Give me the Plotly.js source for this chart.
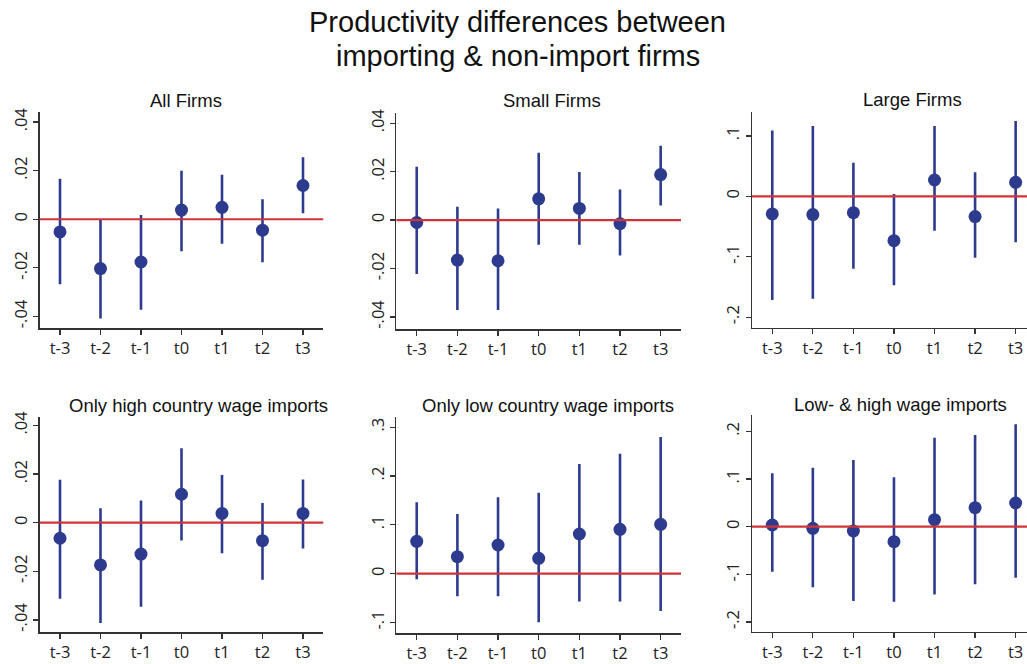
<!DOCTYPE html>
<html>
<head>
<meta charset="utf-8">
<script src="https://cdn.plot.ly/plotly-3.0.1.min.js"></script>
<style>html,body{margin:0;padding:0;background:#fff;}#chart{width:1027px;height:664px;}</style>
</head>
<body>
<div id="chart"></div>
<script>
// ---- data ----
const categories = ["t-3","t-2","t-1","t0","t1","t2","t3"];
const titleLines = ["Productivity differences between", "importing & non-import firms"];
const panelTitles = ["All Firms","Small Firms","Large Firms","Only high country wage imports","Only low country wage imports","Low- & high wage imports"];

const allEst   = [-0.0052,-0.0203,-0.0176, 0.0038, 0.0049,-0.0045, 0.0139];
const allHi    = [ 0.0167,-0.0003, 0.0018, 0.0200, 0.0183, 0.0082, 0.0255];
const allLo    = [-0.0268,-0.0409,-0.0373,-0.0132,-0.0101,-0.0177, 0.0025];

const smallEst = [-0.0010,-0.0165,-0.0168, 0.0088, 0.0048,-0.0015, 0.0188];
const smallHi  = [ 0.0220, 0.0055, 0.0048, 0.0278, 0.0199, 0.0126, 0.0307];
const smallLo  = [-0.0223,-0.0371,-0.0371,-0.0102,-0.0102,-0.0146, 0.0060];

const largeEst = [-0.0292,-0.0303,-0.0270,-0.0734, 0.0270,-0.0336, 0.0232];
const largeHi  = [ 0.1087, 0.1164, 0.0557, 0.0039, 0.1164, 0.0397, 0.1247];
const largeLo  = [-0.1715,-0.1693,-0.1197,-0.1472,-0.0568,-0.1015,-0.0761];

const highEst  = [-0.0064,-0.0174,-0.0129, 0.0117, 0.0038,-0.0074, 0.0038];
const highHi   = [ 0.0177, 0.0059, 0.0091, 0.0306, 0.0196, 0.0081, 0.0178];
const highLo   = [-0.0313,-0.0413,-0.0346,-0.0073,-0.0126,-0.0235,-0.0106];

const lowEst   = [ 0.0662, 0.0348, 0.0587, 0.0314, 0.0812, 0.0908, 0.1010];
const lowHi    = [ 0.1461, 0.1222, 0.1563, 0.1659, 0.2246, 0.2457, 0.2799];
const lowLo    = [-0.0116,-0.0464,-0.0464,-0.0997,-0.0573,-0.0573,-0.0765];

const bothEst  = [ 0.0035,-0.0035,-0.0091,-0.0315, 0.0147, 0.0399, 0.0497];
const bothHi   = [ 0.1119, 0.1238, 0.1399, 0.1035, 0.1867, 0.1923, 0.2147];
const bothLo   = [-0.0944,-0.1273,-0.1559,-0.1573,-0.1420,-0.1210,-0.1070];

const tickVals04 = [-0.04,-0.02,0,0.02,0.04];
const tickText04 = ["-.04","-.02","0",".02",".04"];
const tickValsL  = [-0.2,-0.1,0,0.1];
const tickTextL  = ["-.2","-.1","0",".1"];
const tickValsLow = [-0.1,0,0.1,0.2,0.3];
const tickTextLow = ["-.1","0",".1",".2",".3"];
const tickValsBoth = [-0.2,-0.1,0,0.1,0.2];
const tickTextBoth = ["-.2","-.1","0",".1",".2"];

// ---- layout config ----
const W = 1027, H = 664;
const BLUE = "#2c3b8d", RED = "#d0333a", AXC = "#333333";
const panels = [
  {est: allEst,   hi: allHi,   lo: allLo,   tv: tickVals04,  tt: tickText04,  xd:[39.75,323.25], yd:[111.7,328.3], xr:[-0.5,6.5],  yr:[-0.0449,0.0443], tx:185.7, ty:100.7},
  {est: smallEst, hi: smallHi, lo: smallLo, tv: tickVals04,  tt: tickText04,  xd:[396.4,681],    yd:[113.3,329.3], xr:[-0.5,6.5],  yr:[-0.0451,0.0441], tx:552,   ty:100.7},
  {est: largeEst, hi: largeHi, lo: largeLo, tv: tickValsL,   tt: tickTextL,   xd:[752,1027],     yd:[111.7,327.7], xr:[-0.5,6.28], yr:[-0.2174,0.140],  tx:912.8, ty:99.5},
  {est: highEst,  hi: highHi,  lo: highLo,  tv: tickVals04,  tt: tickText04,  xd:[39.75,323.25], yd:[416.7,632.3], xr:[-0.5,6.5],  yr:[-0.0451,0.0436], tx:198.3, ty:405},
  {est: lowEst,   hi: lowHi,   lo: lowLo,   tv: tickValsLow, tt: tickTextLow, xd:[396.4,681],    yd:[417.3,633.3], xr:[-0.5,6.5],  yr:[-0.1222,0.3202], tx:547.7, ty:405},
  {est: bothEst,  hi: bothHi,  lo: bothLo,  tv: tickValsBoth,tt: tickTextBoth,xd:[752,1027],     yd:[415,631.7],   xr:[-0.5,6.28], yr:[-0.2203,0.2343], tx:900,   ty:404}
];

const tickFont = {family: "Open Sans, Noto Sans, sans-serif", size: 16.5, color: "#222"};
const titleFont = {family: "Liberation Sans, Arial, sans-serif", size: 18.5, color: "#111"};

const data = [];
const layout = {
  width: W, height: H,
  margin: {l:0, r:0, t:0, b:0},
  paper_bgcolor: "#fff", plot_bgcolor: "#fff",
  showlegend: false,
  shapes: [], annotations: []
};

panels.forEach((p, i) => {
  const n = i + 1;
  const xa = "x" + (n === 1 ? "" : n), ya = "y" + (n === 1 ? "" : n);
  data.push({
    type: "scatter", mode: "markers",
    x: categories, y: p.est,
    xaxis: xa, yaxis: ya,
    marker: {color: BLUE, size: 13},
    error_y: {
      type: "data", symmetric: false,
      array: p.hi.map((h, k) => h - p.est[k]),
      arrayminus: p.lo.map((l, k) => p.est[k] - l),
      color: BLUE, thickness: 2.6, width: 0
    },
    hoverinfo: "x+y"
  });
  layout["xaxis" + (n === 1 ? "" : n)] = {
    domain: [p.xd[0]/W, p.xd[1]/W],
    anchor: ya, type: "category", categoryorder: "array", categoryarray: categories,
    range: p.xr, showgrid: false, zeroline: false,
    showline: true, linecolor: AXC, linewidth: 1.3,
    ticks: "outside", ticklen: 5, tickcolor: AXC, tickwidth: 1.3,
    tickfont: tickFont, automargin: false, fixedrange: true
  };
  layout["yaxis" + (n === 1 ? "" : n)] = {
    domain: [1 - p.yd[1]/H, 1 - p.yd[0]/H],
    anchor: xa, range: p.yr, showgrid: false, zeroline: false,
    showline: true, linecolor: AXC, linewidth: 1.3,
    ticks: "outside", ticklen: 5, tickcolor: AXC, tickwidth: 1.3,
    tickvals: p.tv, ticktext: p.tt, tickangle: -90,
    tickfont: tickFont, automargin: false, fixedrange: true
  };
  layout.shapes.push({
    type: "line", layer: "above",
    xref: xa + " domain", x0: 0, x1: 1,
    yref: ya, y0: 0, y1: 0,
    line: {color: RED, width: 2.2}
  });
  layout.annotations.push({
    text: panelTitles[i], xref: "paper", yref: "paper",
    x: p.tx / W, y: 1 - p.ty / H, xanchor: "center", yanchor: "middle",
    showarrow: false, font: titleFont
  });
});

// main title (two lines)
titleLines.forEach((t, k) => {
  layout.annotations.push({
    text: t, xref: "paper", yref: "paper",
    x: 517.5 / W, y: 1 - (22 + k * 34) / H, xanchor: "center", yanchor: "middle",
    showarrow: false, font: {family: "Liberation Sans, Arial, sans-serif", size: 29, color: "#111"}
  });
});

Plotly.newPlot("chart", data, layout, {displayModeBar: false, staticPlot: true});
</script>
</body>
</html>
